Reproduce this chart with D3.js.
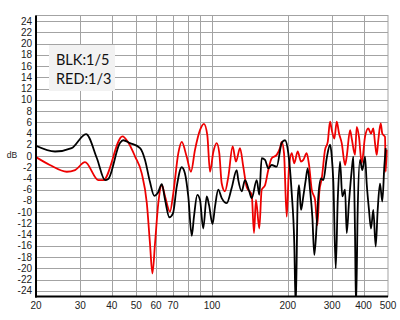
<!DOCTYPE html>
<html>
<head>
<meta charset="utf-8">
<script src="https://cdn.jsdelivr.net/npm/d3@7"></script>
<style>
  body { margin: 0; background: #fff; }
  #chart text { font-family: "Liberation Sans", sans-serif; }
</style>
</head>
<body>
<div id="chart"></div>
<script>
// frequency (Hz) / level (dB)
const blkFreq = [20, 23.8, 27.7, 31.6, 34.9, 37.6, 38.7, 43.1, 44.4, 47.2, 51.8, 54.2, 56.7, 59.0, 60.9, 63.2, 65.1, 67.7, 70, 72.4, 75.8, 78.1, 80.5, 83.1, 84.8, 87.4, 89.6, 92.3, 95.3, 97.3, 100.5, 102.8, 105.9, 109.3, 114.4, 119.7, 125.3, 127.2, 131.2, 135.2, 140.6, 143.8, 150.5, 154.1, 157.5, 162.4, 167.3, 172.6, 180.7, 189.1, 194.9, 200.9, 207.3, 212.2, 215, 218.9, 221.6, 225.7, 230.5, 235.6, 239.9, 245.1, 250.3, 254.9, 260.6, 264.4, 271.1, 276.8, 285.5, 294.3, 299, 303.3, 310, 315.8, 322.5, 329.3, 337.6, 342.8, 350.1, 358.9, 364.2, 369.8, 373.2, 379, 387, 395.3, 405.2, 411.5, 420.2, 428, 437.1, 446.8, 455, 464.7, 474.6, 483.4, 489.6]
const blkDb = [1.8, 0.8, 1.4, 3.9, -0.4, -4.3, -4.1, 2.3, 2.8, 2.3, 1.4, -0.7, -4.6, -7.1, -6.6, -5.0, -7.8, -10.9, -10.2, -5.5, -2.0, -3.1, -7.2, -14.2, -10.8, -6.9, -7.8, -12.9, -7.2, -8.7, -12.1, -9.0, -6.0, -7.5, -8.4, -5.7, -2.5, -4.3, -6.3, -4.3, -6.3, -7.5, -4.3, -6.9, -0.4, -0.7, -2.2, -1.6, -1.9, 2.3, 2.8, 0.5, -6.6, -15.5, -27, -7.8, -5.2, -9.6, -7.2, -4.3, -2.2, -6.0, -10.8, -17.6, -12.0, -7.2, -4.0, -4.3, -0.4, 2.0, -0.1, -4.6, -20.0, -7.8, -1.0, -7.2, -6.0, -13.7, -8.1, -2.5, -0.1, -13.7, -27, -9.6, -0.7, -2.5, -0.1, -4.9, -9.6, -12.9, -9.6, -16.1, -9.6, -4.9, -8.1, -1.9, 1.4]

const redFreq = [20, 22.7, 26.5, 28.6, 31.3, 35.4, 37.0, 44.1, 46.5, 49.5, 52.6, 55.1, 56.7, 58.0, 59.4, 61.2, 63.2, 65.1, 68.1, 70.2, 73.5, 75.8, 79.3, 82.5, 85.6, 89.6, 92.9, 95.8, 98.2, 101.2, 104.4, 106.9, 109.3, 112.6, 116.1, 120.8, 124.5, 129.2, 133.1, 137.3, 143.8, 146.8, 149.5, 154.1, 157.5, 162.4, 167.3, 172.6, 180.7, 186.2, 189.1, 193.2, 198, 202.2, 207.3, 212.2, 218.9, 225.7, 230.5, 237.7, 242.9, 248.9, 256.6, 262, 266.9, 272.8, 281.1, 288.2, 294.3, 299, 306.1, 312.9, 319.6, 327.5, 337.6, 342.8, 353.4, 358.9, 369.8, 375.6, 383.5, 393.1, 405.2, 417.6, 428, 437.1, 444, 450.9, 457.5, 467.7, 474.6, 486.5, 489.6, 494.1]
const redDb = [-0.2, -1.6, -2.8, -2.5, -1.1, -4.3, -4.3, 3.5, 2.4, -0.1, -3.1, -8.4, -15.5, -20.9, -15.5, -8.4, -5.2, -7.2, -9.9, -6.6, 0.5, 2.5, -0.1, -2.8, 1.1, 4.6, 5.7, 3.7, -2.8, 0.7, 2.3, 0.5, -4.9, -6.3, -3.7, 1.7, -1.0, 1.4, -1.9, -5.5, -6.9, -13.7, -7.8, -12.9, -6.0, -5.2, -2.5, -0.4, 0.2, 1.4, 2.5, 0.5, -10.8, -2.1, 0.5, -1.3, 0.8, -1.0, -0.7, 0.5, -1.6, -6.0, -7.8, -12.3, -6.3, -4.0, 1.1, 2.5, 6.1, 4.6, 3.1, 6.1, 4.0, 2.3, -1.6, -0.1, 4.6, 3.1, 0.2, 5.2, 3.4, -1.3, 3.4, 4.9, 4.0, 4.9, 2.3, 0.2, 2.8, 5.8, 4.0, 3.4, -2.8, 1.1]

const xTickLabels = [20, 30, 40, 50, 60, 70, 100, 200, 300, 400, 500]
const xGrid = [30, 40, 50, 60, 70, 80, 90, 100, 200, 300, 400]
const yTicks = d3.range(-24, 25, 2)
const legendLines = ["BLK:1/5", "RED:1/3"]

const svg = d3.select("#chart").append("svg")
    .attr("width", 400)
    .attr("height", 320)

const xPositionScale = d3.scaleLog()
  .domain([20, 500])
  .range([36, 388])

const yPositionScale = d3.scaleLinear()
  .domain([-25, 25])
  .range([296.5, 15.5])

// grid
svg.append("g")
  .selectAll("line")
  .data(yTicks)
  .join("line")
  .attr("x1", 36)
  .attr("x2", 388)
  .attr("y1", d => Math.round(yPositionScale(d)) + 0.5)
  .attr("y2", d => Math.round(yPositionScale(d)) + 0.5)
  .attr("stroke", "#a3a3a3")

svg.append("g")
  .selectAll("line")
  .data(xGrid)
  .join("line")
  .attr("x1", d => Math.round(xPositionScale(d)) + 0.5)
  .attr("x2", d => Math.round(xPositionScale(d)) + 0.5)
  .attr("y1", 15.5)
  .attr("y2", 296)
  .attr("stroke", "#a3a3a3")

svg.append("rect")
  .attr("x", 36)
  .attr("y", 15.5)
  .attr("width", 352)
  .attr("height", 281)
  .attr("fill", "none")
  .attr("stroke", "#a3a3a3")

// legend box
svg.append("rect")
  .attr("x", 49)
  .attr("y", 45)
  .attr("width", 66)
  .attr("height", 46)
  .attr("fill", "#f2f2f2")

svg.append("g")
  .selectAll("text")
  .data(legendLines)
  .join("text")
  .attr("x", 56)
  .attr("y", (d, i) => 65 + i * 18.5)
  .style("font-family", "Lato, 'Open Sans', sans-serif")
  .style("font-size", "14.5px")
  .attr("fill", "#111")
  .text(d => d)

// curves
svg.append("clipPath")
  .attr("id", "plot")
  .append("rect")
  .attr("x", 36)
  .attr("y", 15.5)
  .attr("width", 352)
  .attr("height", 281)

const line = d3.line()
  .x(d => xPositionScale(d[0]))
  .y(d => yPositionScale(d[1]))
  .curve(d3.curveMonotoneX)

const series = [
  { color: "#ee0000", points: d3.zip(redFreq, redDb) },
  { color: "#000000", points: d3.zip(blkFreq, blkDb) }
]

svg.append("g")
  .attr("clip-path", "url(#plot)")
  .selectAll("path")
  .data(series)
  .join("path")
  .attr("d", d => line(d.points))
  .attr("fill", "none")
  .attr("stroke", d => d.color)
  .attr("stroke-width", 1.8)
  .attr("stroke-linejoin", "round")

// axes
svg.append("line")
  .attr("x1", 36).attr("x2", 36)
  .attr("y1", 15.5).attr("y2", 297.5)
  .attr("stroke", "#000")
  .attr("stroke-width", 2)

svg.append("line")
  .attr("x1", 35).attr("x2", 388)
  .attr("y1", 296.5).attr("y2", 296.5)
  .attr("stroke", "#000")
  .attr("stroke-width", 2)

svg.append("g")
  .selectAll("text")
  .data(yTicks)
  .join("text")
  .attr("x", 32)
  .attr("y", d => yPositionScale(d))
  .attr("dy", "0.35em")
  .attr("text-anchor", "end")
  .style("font-size", "10px")
  .attr("fill", "#222")
  .text(d => d)

svg.append("g")
  .selectAll("text")
  .data(xTickLabels)
  .join("text")
  .attr("x", d => xPositionScale(d))
  .attr("y", 309)
  .attr("text-anchor", "middle")
  .style("font-size", "10px")
  .attr("fill", "#222")
  .text(d => d)

svg.append("text")
  .attr("x", 12)
  .attr("y", 158)
  .attr("text-anchor", "middle")
  .style("font-size", "8.5px")
  .attr("fill", "#222")
  .text("dB")
</script>
</body>
</html>
